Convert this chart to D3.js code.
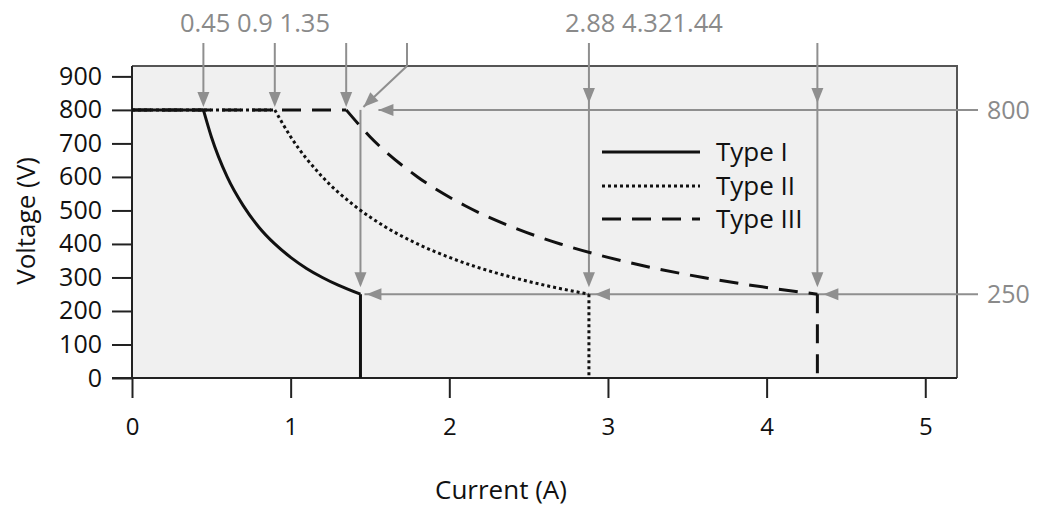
<!DOCTYPE html>
<html>
<head>
<meta charset="utf-8">
<script src="https://cdn.jsdelivr.net/npm/d3@7"></script>
<style>
  html, body { margin: 0; padding: 0; background: #fff; }
  svg { display: block; font-family: "Open Sans", "Noto Sans", sans-serif; }
</style>
</head>
<body>
<svg id="chart" width="1040" height="512"></svg>
<script>
// ---- data ----
const xTicks = [0, 1, 2, 3, 4, 5];
const yTicks = [0, 100, 200, 300, 400, 500, 600, 700, 800, 900];

const typeI_current  = [0, 0.45, 0.5, 0.6, 0.7, 0.8, 0.9, 1.0, 1.1, 1.2, 1.3, 1.44, 1.44];
const typeI_voltage  = [800, 800, 720, 600, 515, 450, 400, 360, 327, 300, 277, 250, 0];
const typeII_current = [0, 0.9, 1.0, 1.2, 1.4, 1.6, 1.8, 2.0, 2.2, 2.4, 2.6, 2.88, 2.88];
const typeII_voltage = [800, 800, 720, 600, 515, 450, 400, 360, 327, 300, 277, 250, 0];
const typeIII_current = [0, 1.35, 1.5, 1.8, 2.1, 2.4, 2.7, 3.0, 3.3, 3.6, 3.9, 4.32, 4.32];
const typeIII_voltage = [800, 800, 720, 600, 514, 450, 400, 360, 327, 300, 277, 250, 0];

const seriesNames = ["Type I", "Type II", "Type III"];

// annotation values
const kneeCurrents = [0.45, 0.9, 1.35];      // arrows down to the 800 V line
const limitCurrents = [1.44, 2.88, 4.32];     // arrows down to the 250 V line
const levelVoltages = [800, 250];
const topLabels = ["0.45 0.9 1.35", "2.88 4.321.44"];

// ---- layout ----
const svg = d3.select("#chart");
const x = d3.scaleLinear().domain([0, 5.2]).range([132, 957]);
const y = d3.scaleLinear().domain([0, 931]).range([378, 66]);

const gray = "#8f8f8f";
const textGray = "#8a8a8a";

// plot background
svg.append("rect")
  .attr("x", x(0)).attr("y", y(931))
  .attr("width", x(5.2) - x(0)).attr("height", y(0) - y(931))
  .attr("fill", "#f0f0f0");
// top and right border
svg.append("path")
  .attr("d", `M${x(0)},${y(931)}H${x(5.2)}V${y(0)}`)
  .attr("fill", "none").attr("stroke", "#555").attr("stroke-width", 2);

// ---- axes ----
const xAxis = svg.append("g").attr("transform", `translate(0,${y(0)})`)
  .call(d3.axisBottom(x).tickValues(xTicks).tickSize(20).tickPadding(20).tickFormat(d3.format("d")));
xAxis.select(".domain").remove();
xAxis.append("line").attr("x1", 112).attr("x2", x(5.2)).attr("stroke", "#222").attr("stroke-width", 2.2);
xAxis.selectAll(".tick line").attr("stroke", "#222").attr("stroke-width", 2);
xAxis.selectAll(".tick text").attr("font-size", 24).attr("fill", "#111")
  .attr("font-family", "'Open Sans', sans-serif");

const yAxis = svg.append("g").attr("transform", `translate(${x(0)},0)`)
  .call(d3.axisLeft(y).tickValues(yTicks).tickSize(20).tickPadding(10).tickFormat(d3.format("d")));
yAxis.select(".domain").remove();
yAxis.append("line").attr("y1", y(931)).attr("y2", y(0)).attr("stroke", "#222").attr("stroke-width", 2);
yAxis.selectAll(".tick line").attr("stroke", "#222").attr("stroke-width", 2);
yAxis.selectAll(".tick text").attr("font-size", 25).attr("fill", "#111")
  .attr("font-family", "'Open Sans', sans-serif");

svg.append("text").attr("transform", "translate(35,221) rotate(-90)")
  .attr("text-anchor", "middle").attr("font-size", 26).attr("fill", "#111").text("Voltage (V)");
svg.append("text").attr("x", 501).attr("y", 499)
  .attr("text-anchor", "middle").attr("font-size", 26).attr("fill", "#111").text("Current (A)");

// ---- annotation arrows ----
const ann = svg.append("g");
function arrowDown(cx, tipY) {
  ann.append("path").attr("d", `M${cx - 6},${tipY - 15}L${cx + 6},${tipY - 15}L${cx},${tipY}Z`).attr("fill", gray);
}
function arrowLeft(tipX, cy) {
  ann.append("path").attr("d", `M${tipX + 15},${cy - 6}L${tipX + 15},${cy + 6}L${tipX},${cy}Z`).attr("fill", gray);
}
const topY = 43;
const rightEnd = 978;

// horizontal level lines
const lvlStart = [x(limitCurrents[0]) + 18, x(limitCurrents[0]) + 4];
levelVoltages.forEach((v, i) => {
  ann.append("line").attr("x1", lvlStart[i]).attr("x2", rightEnd)
    .attr("y1", y(v)).attr("y2", y(v)).attr("stroke", gray).attr("stroke-width", 2);
  svg.append("text").attr("x", 987).attr("y", y(v)).attr("dy", "0.36em")
    .attr("font-size", 25).attr("fill", textGray).text(v);
});
// left-pointing arrowheads
arrowLeft(x(limitCurrents[0]) + 18, y(800));
limitCurrents.forEach(c => arrowLeft(x(c) + 6, y(250)));

// knee arrows down to 800 V line
kneeCurrents.forEach(c => {
  ann.append("line").attr("x1", x(c)).attr("x2", x(c)).attr("y1", topY).attr("y2", y(800) - 10)
    .attr("stroke", gray).attr("stroke-width", 2);
  arrowDown(x(c), y(800) - 3);
});

// 1.44 label arrow: short vertical then diagonal
{
  const sx = 407, sy = y(931);
  const tx = x(1.44) + 3, ty = y(800) - 3;
  ann.append("line").attr("x1", sx).attr("x2", sx).attr("y1", topY).attr("y2", sy)
    .attr("stroke", gray).attr("stroke-width", 2);
  ann.append("line").attr("x1", sx).attr("y1", sy).attr("x2", tx).attr("y2", ty)
    .attr("stroke", gray).attr("stroke-width", 2);
  const ang = Math.atan2(ty - sy, tx - sx);
  const L = 15, W = 6;
  const bx = tx - L * Math.cos(ang), by = ty - L * Math.sin(ang);
  const px = -Math.sin(ang) * W, py = Math.cos(ang) * W;
  ann.append("path").attr("d", `M${bx + px},${by + py}L${bx - px},${by - py}L${tx},${ty}Z`).attr("fill", gray);
  // vertical from 800 down to 250 at 1.44
  ann.append("line").attr("x1", x(1.44)).attr("x2", x(1.44)).attr("y1", y(800)).attr("y2", y(250) - 10)
    .attr("stroke", gray).attr("stroke-width", 2);
  arrowDown(x(1.44), y(250) - 7);
}
// 2.88 and 4.32 arrows: from top down, arrowheads at 800 and 250 levels
[limitCurrents[1], limitCurrents[2]].forEach(c => {
  ann.append("line").attr("x1", x(c)).attr("x2", x(c)).attr("y1", topY).attr("y2", y(250) - 10)
    .attr("stroke", gray).attr("stroke-width", 2);
  arrowDown(x(c), y(800) - 7);
  arrowDown(x(c), y(250) - 7);
});

// top labels
svg.append("text").attr("x", 180).attr("y", 32).attr("font-size", 25.5).attr("fill", textGray).text(topLabels[0]);
svg.append("text").attr("x", 565).attr("y", 32).attr("font-size", 25.5).attr("fill", textGray).text(topLabels[1]);

// ---- curves ----
const styles = [
  { dash: null, width: 3 },
  { dash: "3,3", width: 3 },
  { dash: "19,11", width: 3 }
];
const seriesData = [
  d3.zip(typeI_current, typeI_voltage),
  d3.zip(typeII_current, typeII_voltage),
  d3.zip(typeIII_current, typeIII_voltage)
];
const lineLin = d3.line().x(d => x(d[0])).y(d => y(d[1]));
const lineMono = d3.line().x(d => x(d[0])).y(d => y(d[1])).curve(d3.curveMonotoneX);
const curves = svg.append("g");
// draw in reverse so Type I ends on top
[2, 1, 0].forEach(i => {
  const pts = seriesData[i];
  const n = pts.length;
  const plateau = pts.slice(0, 2);
  const hyper = pts.slice(1, n - 1);
  const drop = pts.slice(n - 2);
  [[plateau, lineLin], [hyper, lineMono], [drop, lineLin]].forEach(([seg, gen]) => {
    curves.append("path").attr("d", gen(seg)).attr("fill", "none")
      .attr("stroke", "#111").attr("stroke-width", styles[i].width)
      .attr("stroke-dasharray", styles[i].dash);
  });
});

// ---- legend ----
const legY = [152, 186, 219];
seriesNames.forEach((name, i) => {
  svg.append("line").attr("x1", 602).attr("x2", 700).attr("y1", legY[i]).attr("y2", legY[i])
    .attr("stroke", "#111").attr("stroke-width", styles[i].width)
    .attr("stroke-dasharray", styles[i].dash);
  svg.append("text").attr("x", 716).attr("y", legY[i]).attr("dy", "0.36em")
    .attr("font-size", 26).attr("fill", "#111").text(name);
});
</script>
</body>
</html>
